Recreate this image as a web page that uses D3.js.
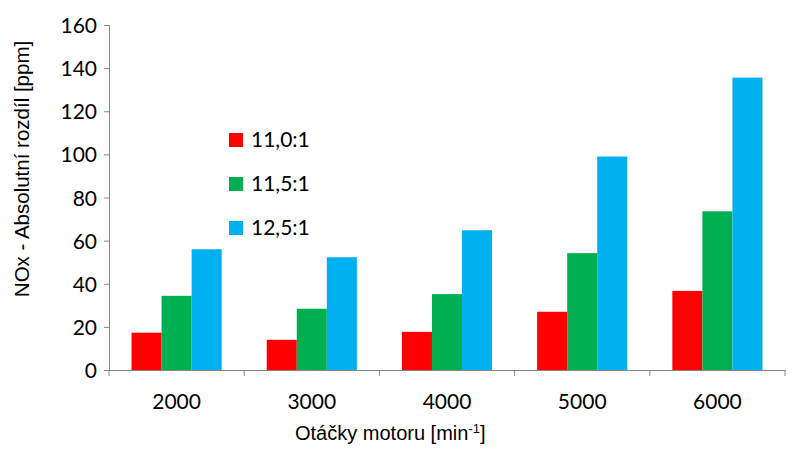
<!DOCTYPE html>
<html>
<head>
<meta charset="utf-8">
<script src="https://cdn.jsdelivr.net/npm/d3@7"></script>
<style>
  body { margin: 0; background: #fff; }
  svg text { fill: #000; }
</style>
</head>
<body>
<div id="chart"></div>
<script>
// data
var categories = ["2000", "3000", "4000", "5000", "6000"]
var seriesNames = ["11,0:1", "11,5:1", "12,5:1"]
var seriesColors = ["#ff0000", "#00b050", "#00b0f0"]
var ratio110 = [17.3, 14, 17.7, 27, 36.7]
var ratio115 = [34.4, 28.4, 35.2, 54.2, 73.6]
var ratio125 = [56, 52.3, 64.8, 99, 135.6]
var yTicks = [0, 20, 40, 60, 80, 100, 120, 140, 160]

var series = [ratio110, ratio115, ratio125]

var width = 795, height = 463
var margin = {top: 25, right: 10, bottom: 93, left: 109}
var axisColor = "#868686"
var tickFont = "Lato, 'Open Sans', sans-serif"
var titleFont = "'Liberation Sans', Arial, sans-serif"

var svg = d3.select("#chart").append("svg")
	.attr("width", width).attr("height", height)

var x = d3.scaleBand().domain(categories)
	.range([margin.left, width - margin.right])
	.paddingInner(0).paddingOuter(0)
var x1 = d3.scaleBand().domain(d3.range(series.length))
	.range([0, x.bandwidth()]).paddingOuter(0.75)
var y = d3.scaleLinear().domain([0, 160]).range([height - margin.bottom, margin.top])

// bars
series.forEach(function(vals, s){
	svg.append("g").selectAll("rect").data(vals).enter().append("rect")
		.attr("x", function(d, i){ return x(categories[i]) + x1(s) })
		.attr("y", function(d){ return y(d) })
		.attr("width", x1.bandwidth())
		.attr("height", function(d){ return y(0) - y(d) })
		.attr("fill", seriesColors[s])
})

// y axis
var yAxis = svg.append("g").attr("transform", "translate(" + margin.left + ",0)")
	.call(d3.axisLeft(y).tickValues(yTicks).tickSize(5).tickPadding(7))
yAxis.selectAll("path, line").attr("stroke", axisColor)
yAxis.selectAll("text").style("font-family", tickFont)
	.style("font-size", "21px").attr("dy", "0.36em")

// x axis
var xAxis = svg.append("g").attr("transform", "translate(0," + y(0) + ")")
	.call(d3.axisBottom(x).tickSize(0))
xAxis.select(".domain").attr("stroke", axisColor)
xAxis.selectAll("text").style("font-family", tickFont)
	.style("font-size", "21px").attr("y", 39).attr("dy", 0)
// boundary ticks between categories
svg.append("g").selectAll("line")
	.data(categories.concat(["end"])).enter().append("line")
	.attr("x1", function(d, i){ return margin.left + i * x.bandwidth() })
	.attr("x2", function(d, i){ return margin.left + i * x.bandwidth() })
	.attr("y1", y(0)).attr("y2", y(0) + 6)
	.attr("stroke", axisColor)

// axis titles
var xt = svg.append("text")
	.attr("x", 295)
	.attr("y", 440)
	.style("font-family", titleFont)
	.style("font-size", "20px")
xt.append("tspan").text("Otáčky motoru [min")
xt.append("tspan").attr("dy", "-7").style("font-size", "13px").text("-1")
xt.append("tspan").attr("dy", "7").text("]")

svg.append("text")
	.attr("transform", "translate(29,169) rotate(-90)")
	.attr("text-anchor", "middle")
	.style("font-family", titleFont)
	.style("font-size", "20.5px")
	.text("NOx - Absolutní rozdíl [ppm]")

// legend
var legend = svg.append("g").selectAll("g").data(seriesNames).enter().append("g")
	.attr("transform", function(d, i){ return "translate(229," + (133 + i * 44) + ")" })
legend.append("rect").attr("width", 14).attr("height", 14)
	.attr("fill", function(d, i){ return seriesColors[i] })
legend.append("text").attr("x", 22).attr("y", 14)
	.style("font-family", tickFont)
	.style("font-size", "21px")
	.text(function(d){ return d })
</script>
</body>
</html>
